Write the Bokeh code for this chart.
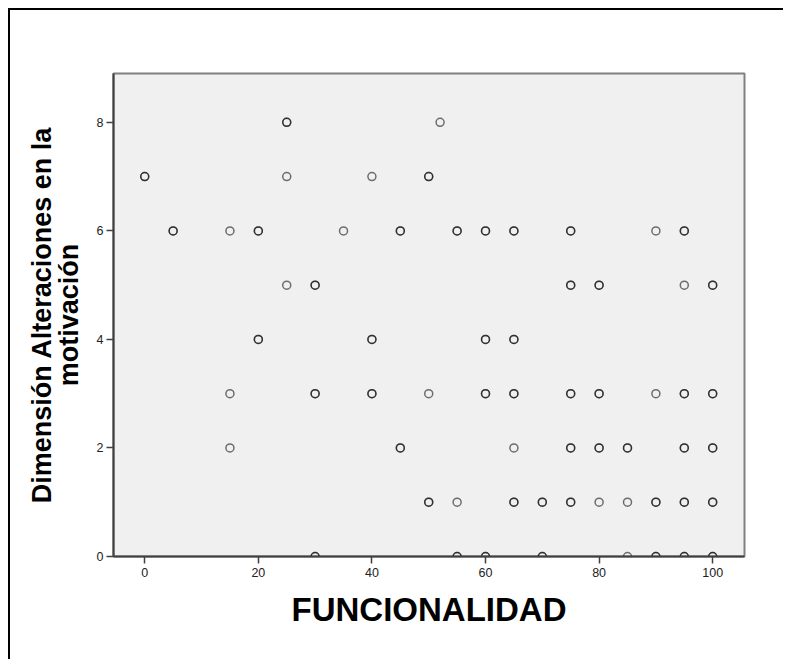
from bokeh.plotting import figure
from bokeh.models import Range1d, FixedTicker
from bokeh.embed import file_html
from bokeh.resources import INLINE

# Data: (FUNCIONALIDAD, Dimensión Alteraciones en la motivación, number of overlapping cases)
func_vals = [25, 52,
             0, 25, 40, 50,
             5, 15, 20, 35, 45, 55, 60, 65, 75, 90, 95,
             25, 30, 75, 80, 95, 100,
             20, 40, 60, 65,
             15, 30, 40, 50, 60, 65, 75, 80, 90, 95, 100,
             15, 45, 65, 75, 80, 85, 95, 100,
             50, 55, 65, 70, 75, 80, 85, 90, 95, 100,
             30, 55, 60, 70, 85, 90, 95, 100]
motiv_vals = [8, 8,
              7, 7, 7, 7,
              6, 6, 6, 6, 6, 6, 6, 6, 6, 6, 6,
              5, 5, 5, 5, 5, 5,
              4, 4, 4, 4,
              3, 3, 3, 3, 3, 3, 3, 3, 3, 3, 3,
              2, 2, 2, 2, 2, 2, 2, 2,
              1, 1, 1, 1, 1, 1, 1, 1, 1, 1,
              0, 0, 0, 0, 0, 0, 0, 0]
case_counts = [2, 1,
               2, 1, 1, 2,
               2, 1, 2, 1, 2, 2, 2, 2, 2, 1, 2,
               1, 2, 2, 2, 1, 2,
               2, 2, 2, 2,
               1, 2, 2, 1, 2, 2, 2, 2, 1, 2, 2,
               1, 2, 1, 2, 2, 2, 2, 2,
               2, 1, 2, 2, 2, 1, 1, 2, 2, 2,
               2, 2, 2, 2, 1, 2, 2, 2]
x_ticks = [0, 20, 40, 60, 80, 100]
y_ticks = [0, 2, 4, 6, 8]

xs, ys = [], []
for x, y, n in zip(func_vals, motiv_vals, case_counts):
    for _ in range(n):
        xs.append(x)
        ys.append(y)

p = figure(width=775, height=651, output_backend="svg", toolbar_location=None,
           x_range=Range1d(-5.5, 105.6), y_range=Range1d(0, 8.9),
           min_border_left=103, min_border_right=41, min_border_top=63, min_border_bottom=105)
p.margin = (8, 0, 0, 8)
p.styles = {"border-top": "2px solid black", "border-left": "2px solid black"}

p.background_fill_color = "#F0F0F0"
p.border_fill_color = "white"
p.outline_line_color = "#808080"
p.outline_line_width = 2
p.grid.visible = False

p.scatter(xs, ys, marker="circle", size=8, fill_color=None,
          line_color="black", line_alpha=0.55, line_width=1.5)

for ax in (p.xaxis[0], p.yaxis[0]):
    ax.axis_line_color = "#404040"
    ax.axis_line_width = 2
    ax.major_tick_line_color = "#404040"
    ax.major_tick_line_width = 1.5
    ax.major_tick_out = 7
    ax.major_tick_in = 0
    ax.minor_tick_line_color = None
    ax.major_label_text_font = "Liberation Sans"
    ax.major_label_text_font_size = "12.5px"
    ax.major_label_text_color = "#222222"
    ax.axis_label_text_font = "Liberation Sans"
    ax.axis_label_text_font_style = "bold"
    ax.axis_label_text_color = "black"

p.xaxis.ticker = FixedTicker(ticks=x_ticks)
p.yaxis.ticker = FixedTicker(ticks=y_ticks)
p.xaxis.axis_label = "FUNCIONALIDAD"
p.xaxis.axis_label_text_font_size = "33px"
p.xaxis.major_label_standoff = 4
p.xaxis.axis_label_standoff = 11
p.yaxis.axis_label = "Dimensión Alteraciones en la\nmotivación"
p.yaxis.axis_label_text_font_size = "27px"
p.yaxis.axis_label_text_line_height = 0.9
p.yaxis.major_label_standoff = 3
p.yaxis.axis_label_standoff = 10

open("out.html", "w").write(file_html(p, INLINE))
